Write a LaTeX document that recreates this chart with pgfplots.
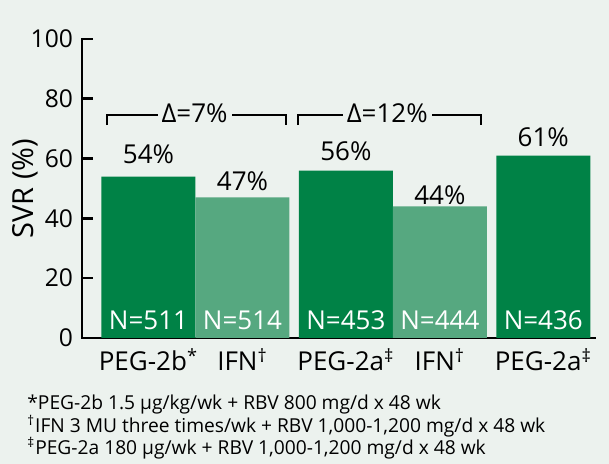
\documentclass[border=0pt]{standalone}
\usepackage{pgfplots}
\pgfplotsset{compat=1.18}
\usepackage{fontspec}
\setmainfont{Open Sans}
\definecolor{bg}{RGB}{236,242,238}
\definecolor{dark}{RGB}{0,130,70}
\definecolor{light}{RGB}{86,168,128}
\newcommand{\bigf}{\fontsize{13}{15}\selectfont}
\newcommand{\tickf}{\fontsize{12.3}{14}\selectfont}
\begin{document}
\begin{tikzpicture}
\fill[bg] (-41pt,-63pt) rectangle (263.5pt,169pt);
\begin{axis}[
  at={(0,0)}, anchor=south west,
  scale only axis, width=256.5pt, height=149.5pt,
  xmin=-0.707, xmax=4.75, ymin=0, ymax=100,
  axis x line=bottom, axis y line=left,
  axis line style={-, line width=1.3pt, line cap=rect},
  xtick={0,1,2.1,3.1,4.2},
  xticklabels={PEG-2b\textsuperscript{*}, IFN\textsuperscript{†}, PEG-2a\textsuperscript{‡}, IFN\textsuperscript{†}, PEG-2a\textsuperscript{‡}},
  xtick style={draw=none},
  ytick={0,20,...,100},
  tick align=inside,
  major tick length=5.5pt,
  ytick style={line width=1.3pt, black},
  /pgf/number format/assume math mode=true,
  yticklabel style={font=\tickf, anchor=east, xshift=-1pt},
  xticklabel style={font=\bigf, anchor=base, yshift=-16.5pt},
  ylabel={SVR (\%)},
  ylabel style={font=\fontsize{14.5}{16}\selectfont, at={(axis description cs:-0.0955,0.5)}, anchor=base},
  clip=false,
]
\addplot[ybar, bar width=1, bar shift=0pt, fill=dark, draw=none] coordinates {(0,54) (2.1,56) (4.2,61)};
\addplot[ybar, bar width=1, bar shift=0pt, fill=light, draw=none] coordinates {(1,47) (3.1,44)};
\node[font=\bigf, anchor=base] at (axis cs:0,58.2) {54\%};
\node[font=\bigf, anchor=base] at (axis cs:1,49.3) {47\%};
\node[font=\bigf, anchor=base] at (axis cs:2.1,59.2) {56\%};
\node[font=\bigf, anchor=base] at (axis cs:3.1,44.8) {44\%};
\node[font=\bigf, anchor=base] at (axis cs:4.2,64.0) {61\%};
\node[font=\bigf, anchor=base, white] at (axis cs:0,2.7) {N=511};
\node[font=\bigf, anchor=base, white] at (axis cs:1,2.7) {N=514};
\node[font=\bigf, anchor=base, white] at (axis cs:2.1,2.7) {N=453};
\node[font=\bigf, anchor=base, white] at (axis cs:3.1,2.7) {N=444};
\node[font=\bigf, anchor=base, white] at (axis cs:4.2,2.7) {N=436};
\draw[line width=1pt] (axis cs:-0.44,71.2) -- (axis cs:-0.44,74.6) -- (axis cs:1.463,74.6) -- (axis cs:1.463,71.2);
\draw[line width=1pt] (axis cs:1.59,71.2) -- (axis cs:1.59,74.6) -- (axis cs:3.537,74.6) -- (axis cs:3.537,71.2);
\node[fill=bg, inner xsep=2pt, inner ysep=1pt, font=\fontsize{13}{15}\selectfont] at (axis cs:0.49,75.3) {Δ=7\%};
\node[fill=bg, inner xsep=2pt, inner ysep=1pt, font=\fontsize{13}{15}\selectfont] at (axis cs:2.54,75.3) {Δ=12\%};
\end{axis}
\node[anchor=base west, inner sep=0, font=\fontsize{9.6}{11}\selectfont] at (-27.5pt,-36pt) {*PEG-2b 1.5 μg/kg/wk + RBV 800 mg/d x 48 wk};
\node[anchor=base west, inner sep=0, font=\fontsize{9.6}{11}\selectfont] at (-27.5pt,-47.25pt) {\textsuperscript{†}IFN 3 MU three times/wk + RBV 1,000-1,200 mg/d x 48 wk};
\node[anchor=base west, inner sep=0, font=\fontsize{9.6}{11}\selectfont] at (-27.5pt,-58.5pt) {\textsuperscript{‡}PEG-2a 180 μg/wk + RBV 1,000-1,200 mg/d x 48 wk};
\pgfresetboundingbox
\path (-41pt,-63pt) rectangle (263.5pt,169pt);
\end{tikzpicture}
\end{document}
